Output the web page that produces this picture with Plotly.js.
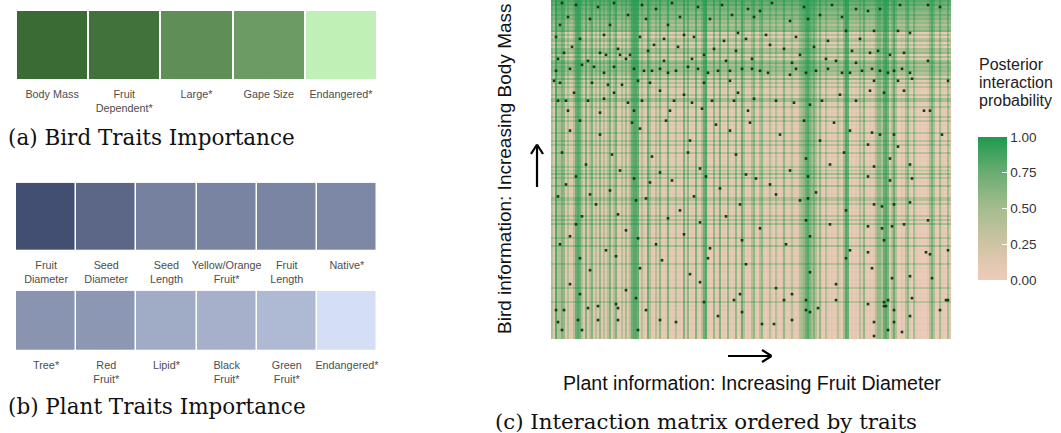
<!DOCTYPE html>
<html>
<head>
<meta charset="utf-8">
<script src="https://cdn.plot.ly/plotly-3.0.1.min.js"></script>
<style>
  html, body { margin: 0; padding: 0; background: #ffffff; }
  #fig { width: 1061px; height: 433px; }
</style>
</head>
<body>
<div id="fig"></div>
<script>
// ---- (a) bird trait importance ----
const birdTraits = ["Body Mass", "Fruit<br>Dependent*", "Large*", "Gape Size", "Endangered*"];
const birdImportance = [1.00, 0.95, 0.73, 0.63, 0.00];

// ---- (b) plant trait importance (two rows of six) ----
const plantTraitsTop = ["Fruit<br>Diameter", "Seed<br>Diameter", "Seed<br>Length", "Yellow/Orange<br>Fruit*", "Fruit<br>Length", "Native*"];
const plantImportanceTop = [1.00, 0.83, 0.65, 0.63, 0.62, 0.60];
const plantTraitsBottom = ["Tree*", "Red<br>Fruit*", "Lipid*", "Black<br>Fruit*", "Green<br>Fruit*", "Endangered*"];
const plantImportanceBottom = [0.52, 0.50, 0.36, 0.32, 0.26, 0.00];

// ---- (c) interaction matrix ----
// Interaction propensity level (0-9) for each plant, ordered by fruit diameter (left = small).
const plantLevels =
  "4394476343" + "3489843734" + "7343634347" + "3473243534" + "8998343284" +
  "3243632373" + "2342327362" + "3273248932" + "2623723263" + "2362384232" +
  "4631463134" + "3143136323" + "4323456897" + "5743631431" + "3134325982" +
  "3132436313" + "1346648973" + "4841131463" + "1531200134" + "7410530153";
// Interaction propensity level (0-9) for each bird, heaviest first (top row).
const birdLevels =
  "98978" + "76867" + "56465" + "72424" + "52435" + "46253" + "57465" + "64536" +
  "34243" + "32425" + "53243" + "23242" + "42323" + "24232" + "42423" + "14232" +
  "32342" + "43524" + "23252" + "32324" + "43423" + "23242" + "42523" + "22324" +
  "23252" + "32232" + "22423" + "23222" + "32324" + "22323" + "24232" + "32223" +
  "22322" + "32222";
// Posterior probability attached to each propensity level.
const levelProb = [0.00, 0.00, 0.02, 0.08, 0.38, 0.48, 0.56, 0.64, 0.72, 0.80];
// Recorded interactions: [plant index, bird index (0 = heaviest)].
const recordedCells = [
  [23,3],[73,3],[4,12],[29,12],[58,12],[66,17],[93,16],[51,22],[6,26],[24,26],[27,27],[34,27],[39,27],[76,27],
  [15,32],[21,33],[41,34],[46,35],[54,34],[58,36],[62,35],[68,33],[73,34],[83,35],[89,35],[95,34],[1,40],[4,41],
  [20,41],[28,42],[35,42],[43,40],[49,41],[76,41],[89,40],[11,46],[31,46],[54,45],[66,47],[93,46],[3,50],[18,50],
  [38,51],[61,50],[80,50],[8,55],[24,56],[41,55],[59,55],[75,54],[98,55],
  [158,5],[164,4],[174,2],[188,2],[194,3],[161,15],[173,15],[179,16],[159,26],[163,25],[169,27],[176,26],[188,30],
  [160,34],[164,35],[168,36],[171,35],[175,34],[179,36],[161,40],[173,40],[180,39],[198,40],[159,45],[166,46],[176,45],
  [186,55],[189,55],[160,66],[164,67],[171,67],[158,72],[173,73],[195,67],[169,79],[179,82],[161,83],
  [158,88],[169,90],[180,89],[161,102],[165,103],[171,102],[179,101],[188,110],[158,113],[165,114],[170,113],[176,112],
  [166,120],[158,126],[187,126],[189,127],[198,125],[160,134],[170,139],[179,138],[190,139],[198,150],[166,151],[167,153],
  [179,158],[168,165],[161,161],
  [14,147],[32,152],[23,153],[2,155],[6,155],[18,154],[33,154],[47,155],[3,161],[13,160],[23,160],[33,160],[54,160],
  [62,161],[5,165],[15,165],[43,165],[95,156],[94,147],[83,158],
  [120,147],[127,150],[116,150],[127,155],[129,156],[133,154],[142,150],[158,152],[166,153],[168,150],[171,155],[180,149],
  [197,150],[194,155],[120,160],[105,162],[111,162],[175,166],[161,168],[171,161],
  [104,5],[119,10],[134,7],[147,15],[109,22],[124,27],[142,30],[104,35],[119,37],[132,35],[149,36],[112,50],[129,52],
  [144,47],[9,65],[24,67],[44,64],[69,70],[89,65],[114,67],[134,70],[149,65],[17,82],[34,85],[54,86],[74,84],[97,87],
  [119,85],[139,82],[7,92],[29,95],[49,91],[84,94],[109,92],[132,96],[22,102],[42,100],[64,105],[94,102],[124,100],
  [147,105],[12,112],[37,115],[74,111],[104,114],[139,112],[4,122],[27,125],[52,122],[79,124],[117,122],[149,125],
  [19,135],[44,134],[69,137],[97,132],[129,136],[9,142],[37,145],[74,141],[112,144],[142,142],
  [5,1],[12,2],[31,1],[45,2],[52,4],[60,1],[85,2],[98,4],[110,1],[126,3],[140,2],[152,4],
  [8,8],[19,9],[38,7],[47,9],[64,8],[79,9],[90,7],[101,8],[128,9],[145,8],
  [2,18],[14,19],[26,17],[44,18],[56,19],[71,18],[86,20],[97,19],[107,17],[122,18],[138,20],[154,19],
  [10,23],[33,24],[48,25],[63,23],[81,24],[92,25],[116,24],[131,23],[150,25],
  [3,29],[18,30],[37,29],[56,30],[70,29],[87,30],[100,29],[120,31],[137,29],[152,31],
  [2,35],[9,34],[26,36],[31,33],[50,35],[78,36],[100,34],[108,36],[122,34],[127,36],[138,34],[145,36],[155,35],
  [7,50],[26,49],[45,50],[70,51],[91,50],[101,49],[121,51],[135,50],[152,50],
  [14,60],[40,61],[57,60],[82,62],[99,61],[126,60],[141,61],
  [5,76],[30,77],[50,78],[68,76],[92,77],[127,79],[146,76],
  [12,88],[41,89],[60,90],[77,88],[102,89],[128,88],
  [3,98],[19,97],[47,99],[71,98],[112,97],[128,99],
  [15,108],[33,107],[58,109],[87,108],[127,110],
  [9,118],[43,119],[66,117],[95,120],[129,118],
  [14,129],[32,128],[55,130],[78,129],[147,129],
  [42,149],[76,151],[91,150]
];
const probTicks = [0, 0.25, 0.5, 0.75, 1];
const probTickText = ["0.00", "0.25", "0.50", "0.75", "1.00"];

// ---- build the posterior matrix: a bird/plant pair interacts if either side is prone to ----
const plantP = Array.from(plantLevels, ch => levelProb[+ch]);
const birdP = Array.from(birdLevels, ch => levelProb[+ch]);
const posterior = birdP.map(b => plantP.map(p => 1 - (1 - b) * (1 - p)));

// ---- page geometry helpers (pixel -> paper) ----
const W = 1061, H = 433;
const px = x => x / W;
const py = y => 1 - y / H;

const sans = "Liberation Sans, Arial, sans-serif";
const serif = "DejaVu Serif, serif";

const traces = [
  {
    type: "heatmap", xaxis: "x2", yaxis: "y2",
    z: [birdImportance], x: birdTraits.map((_, i) => i), y: [0],
    zmin: 0, zmax: 1, colorscale: [[0, "#c0f0b6"], [1, "#3b6b34"]],
    xgap: 2, showscale: false, hoverinfo: "skip"
  },
  {
    type: "heatmap", xaxis: "x3", yaxis: "y3",
    z: [plantImportanceTop], x: plantTraitsTop.map((_, i) => i), y: [0],
    zmin: 0, zmax: 1, colorscale: [[0, "#d4def5"], [1, "#434f72"]],
    xgap: 1.5, showscale: false, hoverinfo: "skip"
  },
  {
    type: "heatmap", xaxis: "x4", yaxis: "y4",
    z: [plantImportanceBottom], x: plantTraitsBottom.map((_, i) => i), y: [0],
    zmin: 0, zmax: 1, colorscale: [[0, "#d4def5"], [1, "#434f72"]],
    xgap: 1.5, showscale: false, hoverinfo: "skip"
  },
  {
    type: "heatmap", xaxis: "x", yaxis: "y",
    z: posterior, zmin: 0, zmax: 1, zsmooth: false,
    colorscale: [[0, "#efcbbb"], [0.25, "#cfc4a4"], [0.5, "#a5bc8e"], [0.75, "#6aad72"], [1, "#1e9a4f"]],
    hoverinfo: "skip",
    colorbar: {
      x: px(978), xanchor: "left", y: py(208.5), yanchor: "middle",
      thicknessmode: "pixels", thickness: 29, lenmode: "pixels", len: 143,
      xpad: 0, ypad: 0, outlinewidth: 0,
      tickvals: probTicks, ticktext: probTickText, tickprefix: "\u2002\u2009",
      ticks: "inside", ticklen: 5, tickcolor: "#ffffff", tickwidth: 1,
      tickfont: { family: sans, size: 13.5, color: "#333333" }
    }
  },
  {
    type: "scatter", mode: "markers", xaxis: "x", yaxis: "y",
    x: recordedCells.map(c => c[0]), y: recordedCells.map(c => c[1]),
    marker: { symbol: "square", size: 2.6, color: "#123a1c", line: { width: 0 } },
    hoverinfo: "skip"
  }
];

const hidden = { showgrid: false, zeroline: false, showline: false, ticks: "", showticklabels: false, fixedrange: true };
const tileX = (n, labels) => ({
  domain: [px(16), px(377)], range: [-0.5, n - 0.5],
  showgrid: false, zeroline: false, showline: false, ticks: "",
  tickvals: labels.map((_, i) => i), ticktext: labels,
  tickfont: { family: sans, size: 10.8, color: "#4d4d4d" },
  ticklabelstandoff: 7
});

const arrowLine = { type: "line", xref: "paper", yref: "paper", line: { color: "#000000", width: 2.2 } };
const note = (text, x, y, size, extra) => Object.assign({
  xref: "paper", yref: "paper", showarrow: false, text: text,
  x: px(x), y: py(y), xanchor: "left", yanchor: "middle",
  font: { family: sans, size: size, color: "#111111" }
}, extra || {});

const layout = {
  width: W, height: H,
  margin: { l: 0, r: 0, t: 0, b: 0, pad: 0 },
  paper_bgcolor: "#ffffff", plot_bgcolor: "#ffffff",
  showlegend: false,
  xaxis: Object.assign({}, hidden, { domain: [px(551), px(951)], range: [-0.5, plantLevels.length - 0.5] }),
  yaxis: Object.assign({}, hidden, { domain: [py(339), 1], range: [birdLevels.length - 0.5, -0.5] }),
  xaxis2: Object.assign(tileX(birdTraits.length, birdTraits), { anchor: "y2" }),
  yaxis2: Object.assign({}, hidden, { domain: [py(79.3), py(11)], range: [-0.5, 0.5], anchor: "x2" }),
  xaxis3: Object.assign(tileX(plantTraitsTop.length, plantTraitsTop), { anchor: "y3" }),
  yaxis3: Object.assign({}, hidden, { domain: [py(250), py(182.7)], range: [-0.5, 0.5], anchor: "x3" }),
  xaxis4: Object.assign(tileX(plantTraitsBottom.length, plantTraitsBottom), { anchor: "y4" }),
  yaxis4: Object.assign({}, hidden, { domain: [py(350), py(290.7)], range: [-0.5, 0.5], anchor: "x4" }),
  annotations: [
    note("(a) Bird Traits Importance", 6, 138, 21.5, { font: { family: serif, size: 21.5, color: "#111111" } }),
    note("(b) Plant Traits Importance", 6, 406, 21.5, { font: { family: serif, size: 21.5, color: "#111111" } }),
    note("(c) Interaction matrix ordered by traits", 493, 421, 21.3, { font: { family: serif, size: 21.3, color: "#111111" } }),
    note("Plant information: Increasing Fruit Diameter", 752, 383, 19.6, { xanchor: "center" }),
    note("Bird information: Increasing Body Mass", 505, 169, 19, { xanchor: "center", textangle: -90 }),
    note("Posterior", 977, 64, 16, { font: { family: sans, size: 16, color: "#222222" } }),
    note("interaction", 977, 82.5, 16, { font: { family: sans, size: 16, color: "#222222" } }),
    note("probability", 977, 101, 16, { font: { family: sans, size: 16, color: "#222222" } })
  ],
  shapes: [
    // right-pointing arrow under the matrix
    Object.assign({}, arrowLine, { x0: px(728), y0: py(356), x1: px(771), y1: py(356) }),
    Object.assign({}, arrowLine, { x0: px(762), y0: py(350), x1: px(771.5), y1: py(356) }),
    Object.assign({}, arrowLine, { x0: px(762), y0: py(362), x1: px(771.5), y1: py(356) }),
    // upward arrow beside the matrix
    Object.assign({}, arrowLine, { x0: px(537), y0: py(187), x1: px(537), y1: py(145) }),
    Object.assign({}, arrowLine, { x0: px(531), y0: py(154), x1: px(537), y1: py(144.5) }),
    Object.assign({}, arrowLine, { x0: px(543), y0: py(154), x1: px(537), y1: py(144.5) })
  ]
};

Plotly.newPlot("fig", traces, layout, { displayModeBar: false, staticPlot: true });
</script>
</body>
</html>
